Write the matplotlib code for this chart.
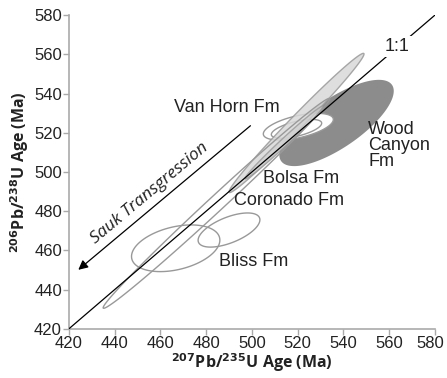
import numpy as np
import matplotlib
matplotlib.use('Agg')
import matplotlib.pyplot as plt
import matplotlib.transforms as mtransforms

# Ellipse parameters (Ma): centre, half-extent in x and y, correlation
names = ['Wood Canyon', 'Van Horn', 'Van Horn inner', 'Bolsa long', 'Coronado', 'Bolsa short',
         'Bliss large', 'Bliss small']
cen_x = [537.0, 520.3, 519.5, 519.5, 484.5, 514.0, 466.7, 490.0]
cen_y = [525.0, 523.1, 522.0, 525.0, 484.0, 515.0, 461.1, 470.4]
sig_x = [25.0, 15.3, 11.0, 29.5, 49.5, 17.0, 19.3, 13.5]
sig_y = [22.0, 6.8, 4.8, 35.5, 53.5, 18.5, 11.9, 8.7]
rho = [0.74, 0.54, 0.6, 0.99, 0.995, 0.99, 0.35, 0.6]

fills = ['#8c8c8c', 'white', 'none', '#d9d9d9', 'none', '#cfcfcf', 'none', 'none']
edges = ['none', '#999999', '#999999', '#999999', '#999999', '#999999', '#999999', '#999999']
alphas = [1.0, 1.0, 1.0, 0.85, 1.0, 0.8, 1.0, 1.0]

one_to_one = [420, 580]
ticks = [420, 440, 460, 480, 500, 520, 540, 560, 580]

# formation labels (x, y)
labels = ['Van Horn Fm', 'Wood\nCanyon\nFm', 'Bolsa Fm', 'Coronado Fm', 'Bliss Fm']
lab_x = [489.2, 550.9, 521.7, 516.3, 500.6]
lab_y = [533.0, 513.5, 496.5, 485.3, 454.4]
lab_ha = ['center', 'left', 'center', 'center', 'center']

arrow_start = (500.3, 524.5)
arrow_end = (423.2, 449.2)

fig = plt.figure(figsize=(4.47, 3.78), dpi=100)
ax = fig.add_axes([0.154, 0.13, 0.819, 0.83])

t = np.linspace(0, 2 * np.pi, 400)
order = [0, 1, 2, 3, 5, 4, 6, 7]
for i in order:
    ex = cen_x[i] + sig_x[i] * np.cos(t)
    ey = cen_y[i] + sig_y[i] * (rho[i] * np.cos(t) + np.sqrt(1 - rho[i] ** 2) * np.sin(t))
    ax.fill(ex, ey, facecolor=fills[i], edgecolor=edges[i], lw=1.0, alpha=alphas[i],
            zorder=2 + order.index(i))

# 1:1 line with label
ax.plot(one_to_one, one_to_one, color='black', lw=0.9, zorder=20)
ax.text(563.4, 563.9, '1:1', fontsize=13, family='Liberation Sans', ha='center', va='center',
        color='#222222', zorder=21,
        bbox=dict(facecolor='white', edgecolor='none', pad=1.5))

# Sauk transgression arrow
ax.annotate('', xy=arrow_end, xytext=arrow_start,
            arrowprops=dict(arrowstyle='-|>', color='black', lw=0.9, mutation_scale=14),
            zorder=20)
ax.text(455.4, 489.1, 'Sauk Transgression', fontsize=12.5, family='Open Sans', style='italic',
        rotation=40, ha='center', va='center', color='#222222', rotation_mode='anchor')

for s, x, y, ha in zip(labels, lab_x, lab_y, lab_ha):
    ax.text(x, y, s, fontsize=13, family='Liberation Sans', ha=ha, va='center',
            color='#222222', linespacing=0.9, zorder=22)

ax.set_xlim(420, 580)
ax.set_ylim(420, 580)
ax.set_xticks(ticks)
ax.set_yticks(ticks)
for lab in ax.get_xticklabels() + ax.get_yticklabels():
    lab.set_family('Liberation Sans')
ax.tick_params(labelsize=12, colors='#aaaaaa', labelcolor='#222222', length=4, width=1,
               pad=1)
# keep the last x tick label inside the figure
last = ax.get_xticklabels()[-1]
last.set_transform(last.get_transform() +
                   mtransforms.ScaledTranslation(-3 / 72, 0, fig.dpi_scale_trans))
for side in ['top', 'right']:
    ax.spines[side].set_visible(False)
for side in ['left', 'bottom']:
    ax.spines[side].set_color('#aaaaaa')
    ax.spines[side].set_linewidth(1.2)

ax.set_xlabel(r'$\mathbf{^{207}}$Pb/$\mathbf{^{235}}$U Age (Ma)', fontsize=11.5,
              fontweight='bold', family='Open Sans', labelpad=0, color='#222222')
ax.set_ylabel(r'$\mathbf{^{206}}$Pb/$\mathbf{^{238}}$U Age (Ma)', fontsize=11.5,
              fontweight='bold', family='Open Sans', labelpad=2, color='#222222')

fig.savefig('out.png', dpi=100)
